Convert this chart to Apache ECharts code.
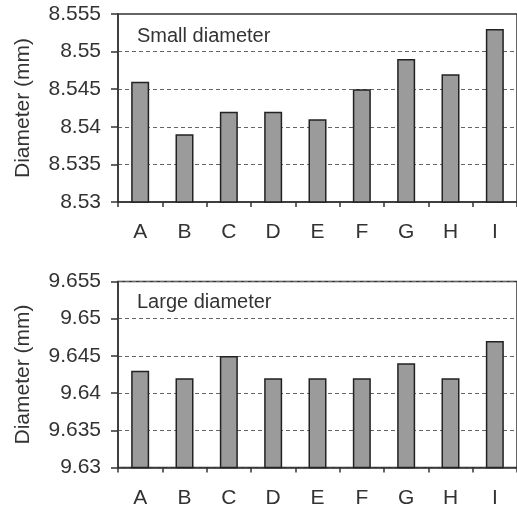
<!DOCTYPE html>
<html><head><meta charset="utf-8">
<script src="https://cdn.jsdelivr.net/npm/echarts@6/dist/echarts.min.js"></script>
<style>html,body{margin:0;padding:0;background:#fff}#c{width:517px;height:512px}</style>
</head><body><div id="c"></div>
<script>
const categories = ['A','B','C','D','E','F','G','H','I'];
const smallDiameter = [8.546, 8.539, 8.542, 8.542, 8.541, 8.545, 8.549, 8.547, 8.553];
const largeDiameter = [9.643, 9.642, 9.645, 9.642, 9.642, 9.642, 9.644, 9.642, 9.647];
const smallAxis = {min: 8.53, max: 8.555, interval: 0.005};
const largeAxis = {min: 9.63, max: 9.655, interval: 0.005};
const panelTitles = ['Small diameter', 'Large diameter'];
const yName = 'Diameter (mm)';

const FONT = 'Liberation Sans, Arial, sans-serif';
const TXT = '#333';
const chart = echarts.init(document.getElementById('c'), null, {renderer: 'canvas'});
const grids = [
  {left: 118, top: 14, height: 188, right: -8},
  {left: 118, top: 281.5, height: 186, right: -8}
];
function xAxis(i) {
  return {
    type: 'category', gridIndex: i, data: categories,
    axisLine: {lineStyle: {color: '#333', width: 1.5}},
    axisTick: {show: true, length: 5, inside: false, lineStyle: {color: '#333', width: 1.5}},
    axisLabel: {color: TXT, fontSize: 21, fontFamily: FONT, margin: 20}
  };
}
function yAxis(i, ax) {
  return {
    type: 'value', gridIndex: i, min: ax.min, max: ax.max, interval: ax.interval,
    name: yName, nameLocation: 'middle', nameGap: 84,
    nameTextStyle: {color: TXT, fontSize: 21, fontFamily: FONT},
    axisLine: {show: true, lineStyle: {color: '#333', width: 1.5}},
    axisTick: {show: true, length: 7, lineStyle: {color: '#333', width: 1.5}},
    axisLabel: {color: TXT, fontSize: 21, fontFamily: FONT, margin: 17,
      formatter: v => String(+v.toFixed(3))},
    splitLine: {show: true, lineStyle: {color: '#666', type: [4, 3], width: 1}}
  };
}
function barSeries(i, data) {
  return {
    type: 'bar', xAxisIndex: i, yAxisIndex: i, data: data, barWidth: 18,
    itemStyle: {color: '#9b9b9b', borderColor: '#222', borderWidth: 1.5},
    silent: true, animation: false
  };
}
chart.setOption({
  animation: false,
  grid: grids.map(g => Object.assign({show: true, borderColor: '#333', borderWidth: 1.5, backgroundColor: 'transparent'}, g)),
  xAxis: [xAxis(0), xAxis(1)],
  yAxis: [yAxis(0, smallAxis), yAxis(1, largeAxis)],
  title: [
    {text: panelTitles[0], left: 137, top: 26, textStyle: {color: TXT, fontSize: 20, fontWeight: 'normal', fontFamily: FONT}, padding: 0},
    {text: panelTitles[1], left: 137, top: 292, textStyle: {color: TXT, fontSize: 20, fontWeight: 'normal', fontFamily: FONT}, padding: 0}
  ],
  series: [barSeries(0, smallDiameter), barSeries(1, largeDiameter)]
});
</script></body></html>
